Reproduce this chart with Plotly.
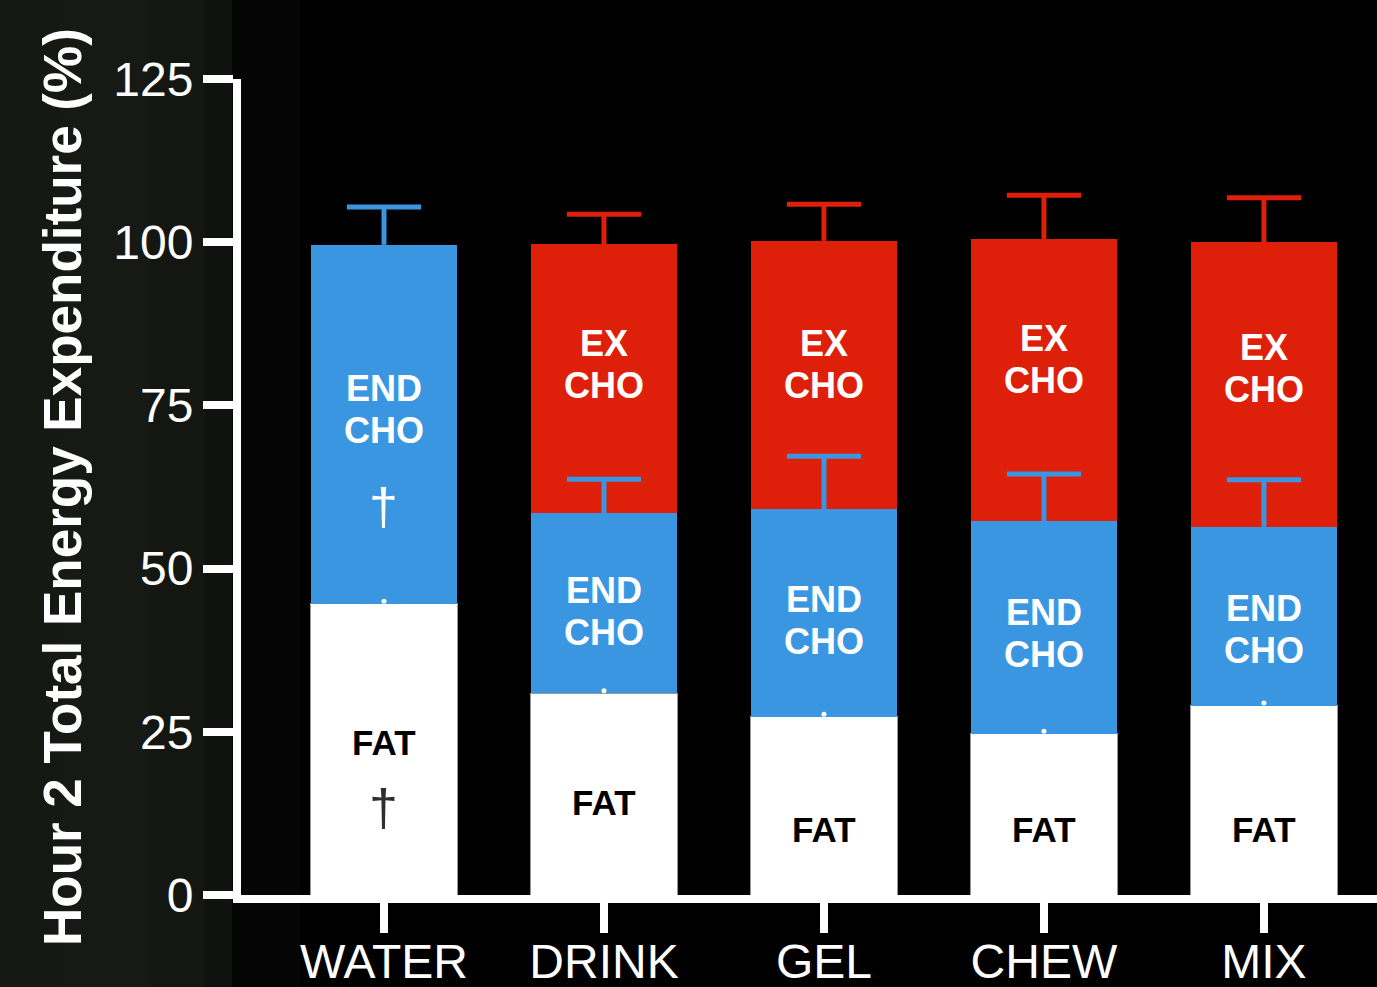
import plotly.graph_objects as go

# Hour 2 energy expenditure by substrate source, per feeding condition
conditions = ["WATER", "DRINK", "GEL", "CHEW", "MIX"]
fat = [44.6, 30.9, 27.3, 24.7, 29.0]
end_cho = [55.0, 27.6, 31.8, 32.6, 27.4]
ex_cho = [None, 41.2, 41.1, 43.2, 43.6]

fat_err = [0.4, 0.4, 0.4, 0.4, 0.4]
end_err = [5.8, 5.2, 8.1, 7.2, 7.2]
ex_err = [None, 4.6, 5.6, 6.7, 6.8]

y_ticks = [0, 25, 50, 75, 100, 125]

WHITE = "#ffffff"
BLUE = "#3a96e0"
RED = "#de200b"
FONT = "Liberation Sans, Arial, Helvetica, sans-serif"

L, R, T, B = 241, 0, 79, 92
W, H = 1377, 987

end_top = [f + e for f, e in zip(fat, end_cho)]
ex_top = [None if x is None else t + x for t, x in zip(end_top, ex_cho)]

fig = go.Figure()

bar_w = 0.666
fig.add_trace(go.Bar(x=conditions, y=fat, name="FAT",
                     marker=dict(color=WHITE, line=dict(width=1, color="#9a9a9a")), width=bar_w))
fig.add_trace(go.Bar(x=conditions, y=end_cho, name="END CHO",
                     marker=dict(color=BLUE, line=dict(width=0)), width=bar_w))
fig.add_trace(go.Bar(x=conditions, y=ex_cho, name="EX CHO",
                     marker=dict(color=RED, line=dict(width=0)), width=bar_w))


# one-sided (upward) error bars: a cap marker at the top plus a stem down to the segment
def err_trace(tops, errs, color, cap_size, symbol, thick):
    ends = [None if t is None else t + e for t, e in zip(tops, errs)]
    return go.Scatter(
        x=conditions, y=ends, mode="markers",
        marker=dict(symbol=symbol, size=cap_size, color=color,
                    line=dict(width=thick, color=color)),
        error_y=dict(type="data", symmetric=False,
                     array=[0] * len(errs), arrayminus=errs,
                     color=color, thickness=thick, width=0),
        hoverinfo="skip", showlegend=False,
    )


fig.add_trace(err_trace(fat, fat_err, WHITE, 5, "circle", 0))
fig.add_trace(err_trace(end_top, end_err, BLUE, 53, "line-ew", 5))
fig.add_trace(err_trace(ex_top, ex_err, RED, 53, "line-ew", 5))

# segment labels: (condition, centre value, lines, colour, size, bold)
labels = [
    ("WATER", 74.3, ["END", "CHO"], WHITE, 36, True),
    ("WATER", 59.4, ["\u2020"], WHITE, 52, False),
    ("WATER", 23.3, ["FAT"], "#000000", 35, True),
    ("WATER", 13.3, ["\u2020"], "#2e2e2e", 52, False),
    ("DRINK", 81.3, ["EX", "CHO"], WHITE, 36, True),
    ("DRINK", 43.5, ["END", "CHO"], WHITE, 36, True),
    ("DRINK", 14.1, ["FAT"], "#000000", 35, True),
    ("GEL", 81.3, ["EX", "CHO"], WHITE, 36, True),
    ("GEL", 42.1, ["END", "CHO"], WHITE, 36, True),
    ("GEL", 10.1, ["FAT"], "#000000", 35, True),
    ("CHEW", 82.0, ["EX", "CHO"], WHITE, 36, True),
    ("CHEW", 40.0, ["END", "CHO"], WHITE, 36, True),
    ("CHEW", 10.1, ["FAT"], "#000000", 35, True),
    ("MIX", 80.7, ["EX", "CHO"], WHITE, 36, True),
    ("MIX", 40.7, ["END", "CHO"], WHITE, 36, True),
    ("MIX", 10.1, ["FAT"], "#000000", 35, True),
]
LINE_GAP = 42
for cx, cy, lines, col, size, bold in labels:
    n = len(lines)
    for i, txt in enumerate(lines):
        shift = ((n - 1) / 2 - i) * LINE_GAP
        fig.add_annotation(
            x=cx, y=cy, xref="x", yref="y", yshift=shift,
            text=(f"<b>{txt}</b>" if bold else txt),
            showarrow=False, font=dict(family=FONT, size=size, color=col),
            xanchor="center", yanchor="middle",
        )

fig.add_annotation(
    x=(62 - L) / (W - L - R), y=0.5, xref="paper", yref="paper",
    text="<b>Hour 2 Total Energy Expenditure (%)</b>", textangle=-90,
    showarrow=False, font=dict(family=FONT, size=53, color=WHITE),
    xanchor="center", yanchor="middle",
)


# dim backdrop on the left side (pixel bounds converted to paper units)
def px_to_paper(px):
    return (px - L) / (W - L - R)


bg_strips = [(0, 60, "#161814"), (60, 150, "#171915"), (150, 205, "#141612"),
             (205, 232, "#10120f"), (232, 300, "#050505")]
for x0, x1, c in bg_strips:
    fig.add_shape(type="rect", xref="paper", yref="paper",
                  x0=px_to_paper(x0), x1=px_to_paper(x1), y0=-0.2, y1=1.2,
                  fillcolor=c, line=dict(width=0), layer="below")

fig.update_layout(
    barmode="stack",
    width=W, height=H,
    margin=dict(l=L, r=R, t=T, b=B, autoexpand=False),
    paper_bgcolor="#000000", plot_bgcolor="rgba(0,0,0,0)",
    showlegend=False,
    font=dict(family=FONT, color=WHITE),
)
fig.update_xaxes(
    range=[-0.65, 4.514], showgrid=False, zeroline=False, automargin=False,
    showline=True, linecolor=WHITE, linewidth=8,
    ticks="outside", ticklen=30, tickwidth=8, tickcolor=WHITE,
    ticklabelstandoff=-13,
    tickfont=dict(family=FONT, size=48, color=WHITE),
)
fig.update_yaxes(
    range=[0, 125], tickvals=y_ticks, showgrid=False, zeroline=False, automargin=False,
    showline=True, linecolor=WHITE, linewidth=8,
    ticks="outside", ticklen=30, tickwidth=8, tickcolor=WHITE,
    tickfont=dict(family=FONT, size=48, color=WHITE),
)

fig.write_html("out.html")
